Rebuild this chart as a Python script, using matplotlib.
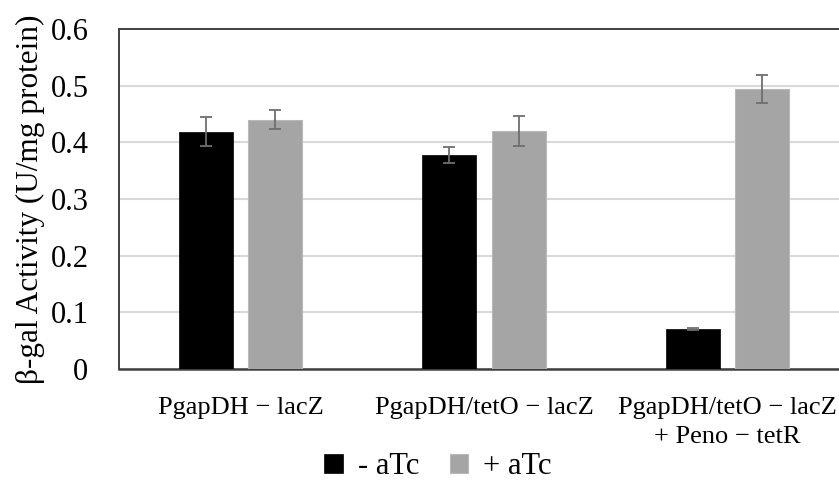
import matplotlib
matplotlib.use("Agg")
import matplotlib.pyplot as plt
import numpy as np

categories = ["PgapDH \u2212 lacZ", "PgapDH/tetO \u2212 lacZ", "PgapDH/tetO \u2212 lacZ\n+ Peno \u2212 tetR"]
minus_atc = [0.419, 0.378, 0.071]
minus_err = [0.026, 0.014, 0.002]
plus_atc = [0.440, 0.420, 0.494]
plus_err = [0.017, 0.027, 0.024]
series_labels = ["- aTc", "+ aTc"]
yticks = [0, 0.1, 0.2, 0.3, 0.4, 0.5, 0.6]
ytick_labels = ["0", "0.1", "0.2", "0.3", "0.4", "0.5", "0.6"]

plt.rcParams['font.family'] = ['Liberation Serif', 'DejaVu Serif']

W, H = 839, 484
fig = plt.figure(figsize=(W/100, H/100), dpi=100)
ax = fig.add_axes([119/W, 1-369/H, (849-119)/W, (369-29)/H])

x = np.arange(len(categories))
bw = 0.222
off = 0.142
errkw = dict(ecolor="#6e6e6e", elinewidth=1.3, capsize=4, capthick=1.3)
b1 = ax.bar(x-off, minus_atc, bw, yerr=minus_err, color="#000000", edgecolor="#000000",
            linewidth=0.5, error_kw=errkw, label=series_labels[0], zorder=3)
b2 = ax.bar(x+off, plus_atc, bw, yerr=plus_err, color="#a5a5a5", edgecolor="#b8b8b8",
            linewidth=0.8, error_kw=errkw, label=series_labels[1], zorder=3)

ax.set_xlim(-0.5, 2.5)
ax.set_ylim(0, 0.6)
ax.set_yticks(yticks)
ax.set_yticklabels(ytick_labels, fontsize=22)
ax.set_xticks(x)
ax.set_xticklabels(categories, fontsize=19, linespacing=1.4)
ax.tick_params(axis='x', length=0, pad=20)
ax.tick_params(axis='y', length=0, pad=22)

ax.grid(axis='y', color="#d9d9d9", linewidth=1.5, zorder=0)
ax.set_axisbelow(True)
for s in ['left', 'top']:
    ax.spines[s].set_color("#404040")
    ax.spines[s].set_linewidth(1.4)
ax.spines['bottom'].set_color("#404040")
ax.spines['bottom'].set_linewidth(1.8)
ax.spines['right'].set_visible(False)

ax.set_ylabel("\u03b2-gal Activity (U/mg protein)", fontsize=22.5, labelpad=4)

fig.legend(handles=[b1, b2], labels=series_labels, loc='center', bbox_to_anchor=(438/W, 1-467/H),
           ncol=2, frameon=False, fontsize=22, handlelength=0.6, handleheight=0.6,
           handletextpad=0.5, columnspacing=1.0)

fig.savefig("out.png", dpi=100)
